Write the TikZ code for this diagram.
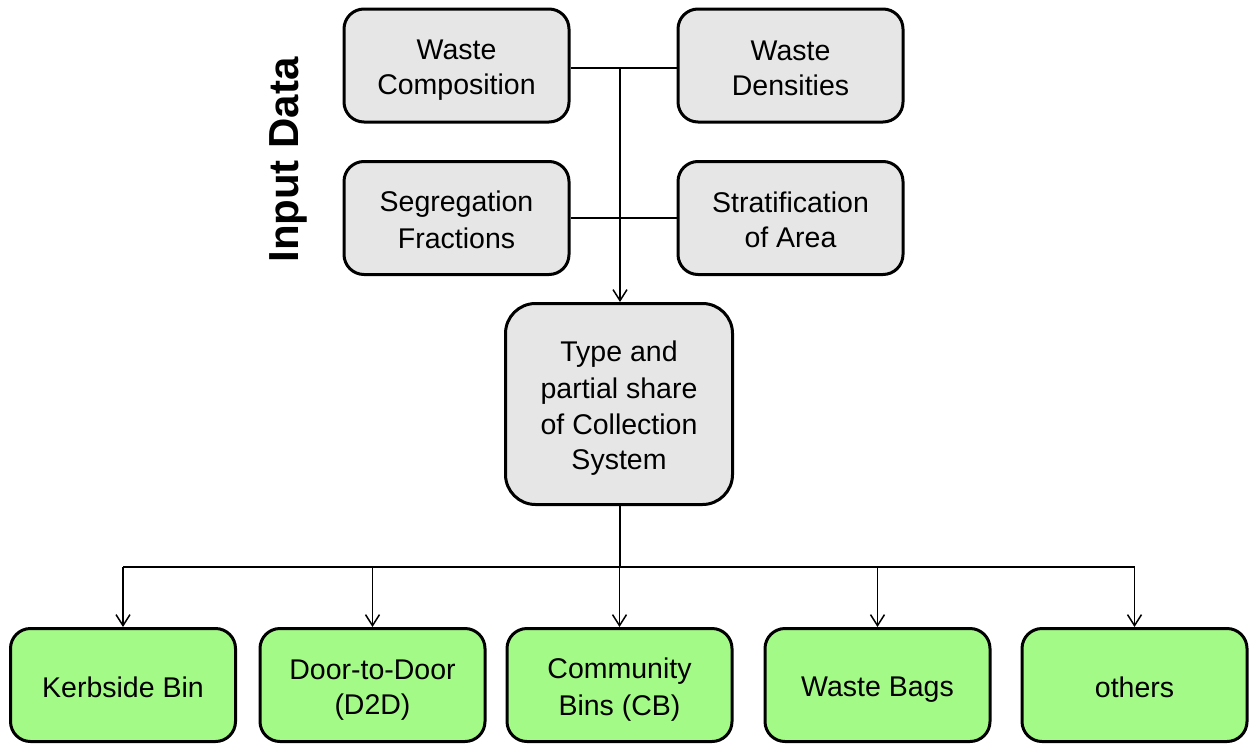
\documentclass[tikz,border=0pt]{standalone}
\usepackage{fontspec}
\setmainfont{Liberation Sans}
\usetikzlibrary{arrows.meta}
\definecolor{boxgray}{RGB}{231,230,231}
\definecolor{boxgreen}{RGB}{164,250,134}
\newcommand\vs{\rule[-5.5pt]{0pt}{35pt}}
\begin{document}
\begin{tikzpicture}[x=1pt,y=1pt,
  inbox/.style={draw=black, line width=3pt, fill=boxgray, rounded corners=20pt,
    minimum width=225pt, minimum height=113pt, align=center, inner sep=0pt,
    font=\fontsize{28.5}{35}\selectfont},
  outbox/.style={draw=black, line width=3pt, fill=boxgreen, rounded corners=20pt,
    minimum width=225pt, minimum height=113pt, align=center, inner sep=0pt,
    font=\fontsize{28.5}{35}\selectfont},
  conn/.style={line width=1.5pt},
  arr/.style={conn, -{Straight Barb[length=11pt,width=14pt,line width=1.5pt]}}
]
\useasboundingbox (0,0) rectangle (1249,-744);
\node[inbox] (wc) at (456.5,-65.5) {Waste\vs\\Composition\vs};
\node[inbox] (wd) at (790.5,-65.5) {Waste\vs\\Densities\vs};
\node[inbox] (sf) at (456.5,-218) {Segregation\vs\\Fractions\vs};
\node[inbox] (sa) at (790.5,-218) {Stratification\vs\\of Area\vs};
\node[inbox, minimum width=227pt, minimum height=201pt, rounded corners=30pt] (ts) at (619,-404) {Type and\vs\\partial share\vs\\of Collection\vs\\System\vs};
\node[rotate=90, font=\fontsize{42}{48}\selectfont\bfseries] (id) at (288,-160) {Input Data};

\node[outbox] (kb) at (123,-685) {Kerbside Bin\vs};
\node[outbox] (dd) at (372.5,-685) {Door-to-Door\vs\\(D2D)\vs};
\node[outbox] (cb) at (619.5,-685) {Community\vs\\Bins (CB)\vs};
\node[outbox] (wb) at (877.5,-685) {Waste Bags\vs};
\node[outbox] (ot) at (1134.5,-685) {others\vs};

\coordinate (j1) at (620,-68);
\coordinate (j3) at (620,-567);
\draw[conn] (wc.east |- j1) -- (wd.west |- j1);
\draw[conn] (sf.east) -- (sa.west);
\draw[arr] (j1) -- (ts.north -| j1);
\draw[conn] (ts.south -| j3) -- (j3);
\draw[conn] (kb.north |- j3) -- (ot.north |- j3);
\foreach \n in {kb,dd,cb,wb,ot}{
  \draw[arr] (\n.north |- j3) -- (\n.north);
}
\end{tikzpicture}
\end{document}
